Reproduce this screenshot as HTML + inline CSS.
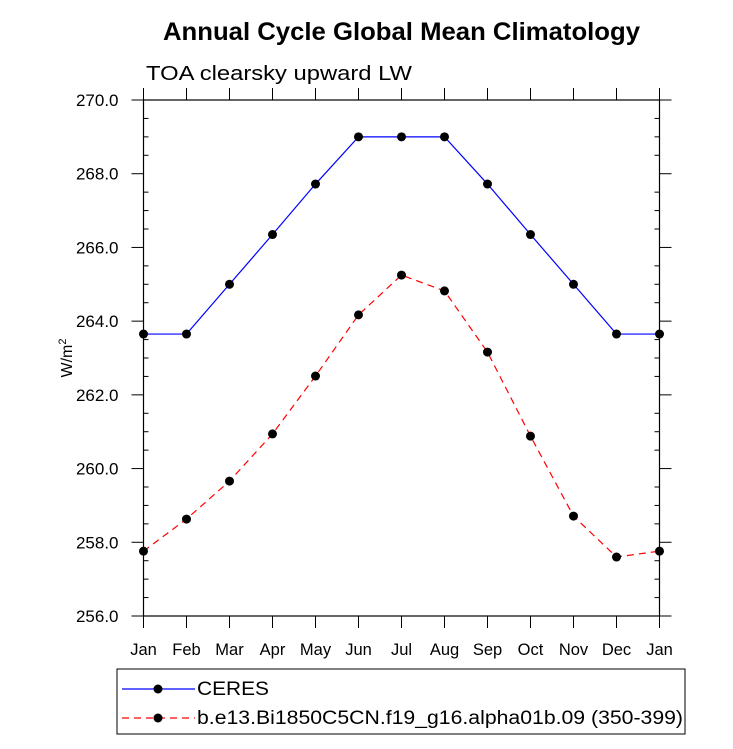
<!DOCTYPE html>
<html><head><meta charset="utf-8"><style>
body{margin:0;background:#fff;}
svg text{font-family:"Liberation Sans",sans-serif;}
</style></head><body>
<svg id="c" width="733" height="744" xmlns="http://www.w3.org/2000/svg">
<text x="163" y="40" textLength="477" lengthAdjust="spacingAndGlyphs" font-size="25" font-weight="bold">Annual Cycle Global Mean Climatology</text>
<text x="146" y="80" textLength="266" lengthAdjust="spacingAndGlyphs" font-size="20">TOA clearsky upward LW</text>
<text transform="translate(72,358) rotate(-90)" text-anchor="middle" font-size="16">W/m<tspan dy="-6" font-size="11">2</tspan></text>
<g id="axes"></g><g id="marks"></g>
<g>
<rect x="117" y="669" width="568" height="65" fill="none" stroke="#000" stroke-width="1"/>
<g>
<line x1="122" y1="689" x2="195" y2="689" stroke="#0000ff" stroke-width="1.2"/><circle cx="158" cy="689" r="4.5"/>
<text x="197" y="695" textLength="72" lengthAdjust="spacingAndGlyphs" font-size="19">CERES</text></g>
<g>
<line x1="122" y1="718" x2="195" y2="718" stroke="#ff0000" stroke-width="1.2" stroke-dasharray="7,5"/><circle cx="158" cy="718" r="4.5"/>
<text x="197" y="724" textLength="486" lengthAdjust="spacingAndGlyphs" font-size="19">b.e13.Bi1850C5CN.f19_g16.alpha01b.09 (350-399)</text></g>
</g>
</svg>
<script>
const months=["Jan","Feb","Mar","Apr","May","Jun","Jul","Aug","Sep","Oct","Nov","Dec","Jan"];
const ceres=[263.65,263.65,265.0,266.35,267.72,269.0,269.0,269.0,267.72,266.35,265.0,263.65,263.65];
const model=[257.76,258.63,259.66,260.94,262.51,264.17,265.25,264.82,263.16,260.88,258.71,257.6,257.76];
const yTicks=[256,258,260,262,264,266,268,270];
const L=143.5,R=659.5,T=100,B=616,ymin=256,ymax=270;
const X=i=>L+(R-L)*i/(months.length-1);
const Y=v=>B-(v-ymin)/(ymax-ymin)*(B-T);
const NS="http://www.w3.org/2000/svg";
function mk(p,t,a){const e=document.createElementNS(NS,t);for(const k in a)e.setAttribute(k,a[k]);p.appendChild(e);return e;}
const ax=document.getElementById('axes'),mg=document.getElementById('marks');
const fr=mk(ax,'rect',{x:L,y:T,width:R-L,height:B-T,fill:'none',stroke:'#000','stroke-width':1.2});


for(let v=ymin;v<=ymax+1e-9;v+=0.5){const y=Y(v);const maj=Math.abs(v-Math.round(v/2)*2)<1e-6;
 if(maj){mk(ax,'line',{x1:L-12,y1:y,x2:L,y2:y,stroke:'#000'});mk(ax,'line',{x1:R,y1:y,x2:R+12,y2:y,stroke:'#000'});}
 else{mk(ax,'line',{x1:L,y1:y,x2:L+5,y2:y,stroke:'#000'});mk(ax,'line',{x1:R-5,y1:y,x2:R,y2:y,stroke:'#000'});}}
yTicks.forEach(v=>{const t=mk(ax,'text',{x:L-25,y:Y(v)+6,'text-anchor':'end','font-size':17});t.textContent=v.toFixed(1);

});
months.forEach((m,i)=>{const x=X(i);
 mk(ax,'line',{x1:x,y1:B,x2:x,y2:B+12,stroke:'#000'});mk(ax,'line',{x1:x,y1:T-12,x2:x,y2:T,stroke:'#000'});
 const t=mk(ax,'text',{x:x,y:B+39,'text-anchor':'middle','font-size':16.5});t.textContent=m;
 
 });
function series(d,c,dash,name){
 const pl=mk(mg,'polyline',{points:d.map((v,i)=>X(i)+','+Y(v)).join(' '),fill:'none',stroke:c,'stroke-width':1.2,'stroke-dasharray':dash});
 
 
 d.forEach((v,i)=>{const p=mk(mg,'circle',{cx:X(i),cy:Y(v),r:4.5,fill:'#000'});
 
 });
}
series(ceres,'#0000ff','none','ceres');
series(model,'#ff0000','7,5','model');
</script>
</body></html>
